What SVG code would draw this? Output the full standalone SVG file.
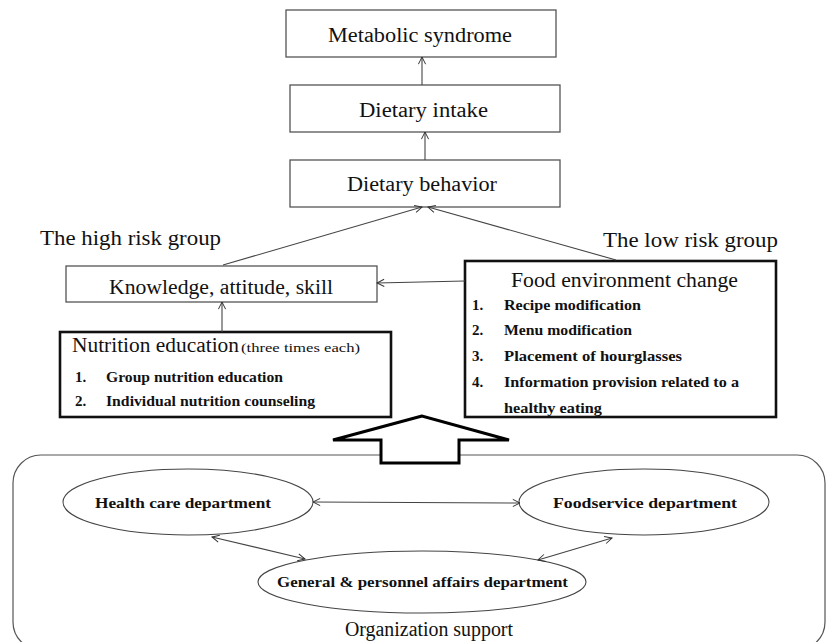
<svg xmlns="http://www.w3.org/2000/svg" width="827" height="642" viewBox="0 0 827 642">
<style>
.bg{fill:#fff}
.box{fill:#fff;stroke:#555;stroke-width:1.3}
.thick{fill:#fff;stroke:#111;stroke-width:2.6}
.ell{fill:#fff;stroke:#444;stroke-width:1.1}
.con{stroke:#444;stroke-width:1.1;fill:none}
.t{font-family:"Liberation Serif","Times New Roman",serif;fill:#111}
.h{font-size:20px}
.s{font-size:13px}
.i{font-size:15px;font-weight:bold}
.e{font-size:15px;font-weight:bold}
</style>
<defs>
<marker id="ah" viewBox="0 0 10 10" refX="9" refY="5" markerWidth="9" markerHeight="9" markerUnits="userSpaceOnUse" orient="auto-start-reverse">
<path d="M1,1 L9,5 L1,9" fill="none" stroke="#333" stroke-width="1.1"/>
</marker>
<clipPath id="fclip"><rect x="465" y="261" width="311" height="155"/></clipPath>
</defs>
<rect class="bg" x="0" y="0" width="827" height="642"/>

<g id="org-support">
<rect x="13" y="455" width="812" height="195" rx="28" ry="28" fill="#fff" stroke="#555" stroke-width="1.2"/>
<text class="t h" x="345" y="636" textLength="168" lengthAdjust="spacingAndGlyphs">Organization support</text>
</g>

<g id="big-arrow">
<polygon points="422,416 333,440 381,440 381,463 459,463 459,440 509,440" fill="#fff" stroke="#000" stroke-width="3" stroke-linejoin="miter"/>
</g>

<g id="metabolic">
<rect class="box" x="286" y="10" width="270" height="47"/>
<text class="t h" x="328" y="42" textLength="184" lengthAdjust="spacingAndGlyphs">Metabolic syndrome</text>
</g>
<g id="intake">
<rect class="box" x="290" y="85" width="270" height="47"/>
<text class="t h" x="359" y="117" textLength="129" lengthAdjust="spacingAndGlyphs">Dietary intake</text>
</g>
<g id="behavior">
<rect class="box" x="290" y="160" width="270" height="47"/>
<text class="t h" x="347" y="191" textLength="150" lengthAdjust="spacingAndGlyphs">Dietary behavior</text>
</g>

<g id="high-risk-label">
<text class="t h" x="40" y="245" textLength="181" lengthAdjust="spacingAndGlyphs">The high risk group</text>
</g>
<g id="low-risk-label">
<text class="t h" x="603" y="247" textLength="175" lengthAdjust="spacingAndGlyphs">The low risk group</text>
</g>

<g id="knowledge">
<rect class="box" x="66" y="266" width="311" height="36"/>
<text class="t h" x="109" y="294" textLength="224" lengthAdjust="spacingAndGlyphs">Knowledge, attitude, skill</text>
</g>

<g id="nutrition">
<rect class="thick" x="60" y="332" width="331" height="85"/>
<text class="t h" x="72" y="352" textLength="167" lengthAdjust="spacingAndGlyphs">Nutrition education</text>
<text class="t s" x="241" y="352" textLength="119" lengthAdjust="spacingAndGlyphs">(three times each)</text>
<text class="t i" x="75" y="382">1.</text>
<text class="t i" x="106" y="382" textLength="177" lengthAdjust="spacingAndGlyphs">Group nutrition education</text>
<text class="t i" x="75" y="406">2.</text>
<text class="t i" x="106" y="406" textLength="209" lengthAdjust="spacingAndGlyphs">Individual nutrition counseling</text>
</g>

<g id="food-env">
<rect class="thick" x="465" y="261" width="311" height="156"/>
<text class="t h" x="511" y="287" textLength="227" lengthAdjust="spacingAndGlyphs">Food environment change</text>
<g clip-path="url(#fclip)">
<text class="t i" x="472" y="310">1.</text>
<text class="t i" x="504" y="310" textLength="137" lengthAdjust="spacingAndGlyphs">Recipe modification</text>
<text class="t i" x="472" y="335">2.</text>
<text class="t i" x="504" y="335" textLength="128" lengthAdjust="spacingAndGlyphs">Menu modification</text>
<text class="t i" x="472" y="361">3.</text>
<text class="t i" x="504" y="361" textLength="178" lengthAdjust="spacingAndGlyphs">Placement of hourglasses</text>
<text class="t i" x="472" y="387">4.</text>
<text class="t i" x="504" y="387" textLength="235" lengthAdjust="spacingAndGlyphs">Information provision related to a</text>
<text class="t i" x="504" y="413" textLength="98" lengthAdjust="spacingAndGlyphs">healthy eating</text>
</g>
</g>

<g id="health-care">
<ellipse class="ell" cx="188" cy="502" rx="125" ry="33"/>
<text class="t e" x="95" y="508" textLength="176" lengthAdjust="spacingAndGlyphs">Health care department</text>
</g>
<g id="foodservice">
<ellipse class="ell" cx="644" cy="502" rx="125" ry="33"/>
<text class="t e" x="553" y="508" textLength="184" lengthAdjust="spacingAndGlyphs">Foodservice department</text>
</g>
<g id="general">
<ellipse class="ell" cx="422" cy="582" rx="164" ry="31"/>
<text class="t e" x="277" y="587" textLength="291" lengthAdjust="spacingAndGlyphs">General &amp; personnel affairs department</text>
</g>

<g id="connectors">
<line class="con" x1="422" y1="85" x2="422" y2="57" marker-end="url(#ah)"/>
<line class="con" x1="425" y1="160" x2="425" y2="132" marker-end="url(#ah)"/>
<line class="con" x1="223" y1="265" x2="422" y2="207" marker-end="url(#ah)"/>
<line class="con" x1="616" y1="260" x2="428" y2="207" marker-end="url(#ah)"/>
<line class="con" x1="465" y1="281" x2="377" y2="283" marker-end="url(#ah)"/>
<line class="con" x1="222" y1="332" x2="222" y2="302" marker-end="url(#ah)"/>
<line class="con" x1="313" y1="502" x2="520" y2="503" marker-start="url(#ah)" marker-end="url(#ah)"/>
<line class="con" x1="212" y1="537" x2="305" y2="559" marker-start="url(#ah)" marker-end="url(#ah)"/>
<line class="con" x1="612" y1="538" x2="538" y2="560" marker-start="url(#ah)" marker-end="url(#ah)"/>
</g>
</svg>
